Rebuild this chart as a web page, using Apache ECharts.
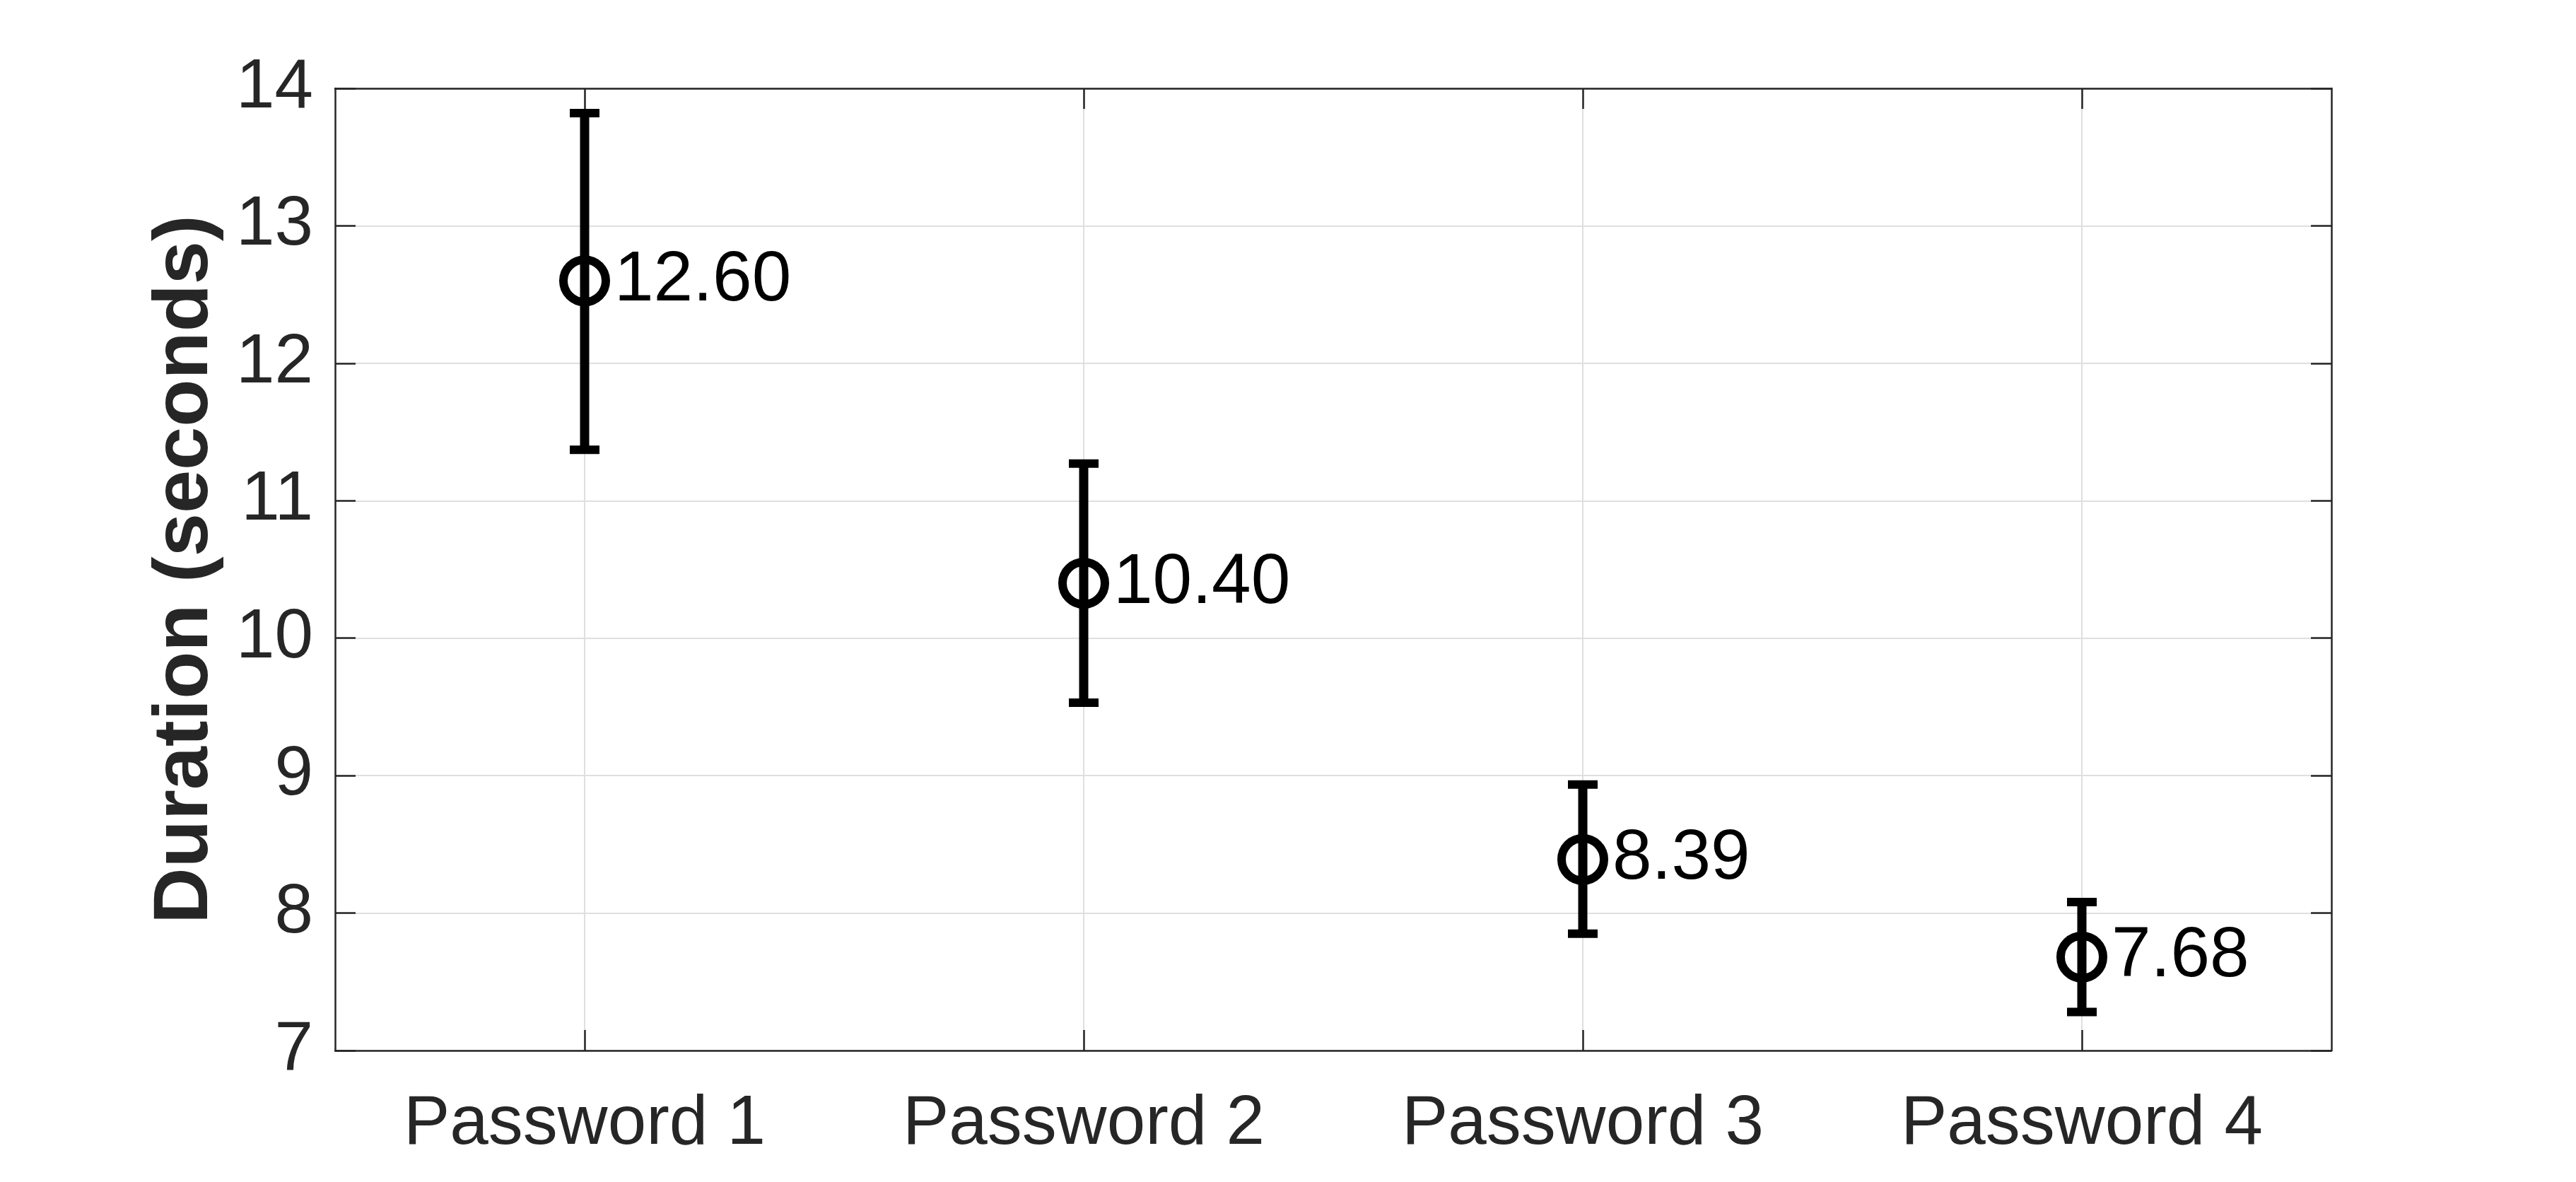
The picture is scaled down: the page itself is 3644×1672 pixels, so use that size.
<!DOCTYPE html>
<html>
<head>
<meta charset="utf-8">
<script src="https://cdn.jsdelivr.net/npm/echarts@6/dist/echarts.min.js"></script>
<style>
html,body{margin:0;padding:0;background:#fff;}
#chart{width:3644px;height:1672px;}
</style>
</head>
<body>
<div id="chart"></div>
<script>
const categories = ['Password 1', 'Password 2', 'Password 3', 'Password 4'];
const means = [12.60, 10.40, 8.39, 7.68];
const lowers = [11.37, 9.53, 7.85, 7.28];
const uppers = [13.82, 11.27, 8.935, 8.08];
const yMin = 7, yMax = 14, yStep = 1;
const yTitle = 'Duration (seconds)';

const FONT = "'Liberation Sans', Arial, Helvetica, sans-serif";
const AX = '#262626';
const GRID = '#dfdfdf';

const chart = echarts.init(document.getElementById('chart'), null, {renderer: 'canvas'});

const errData = categories.map((c, i) => [i, lowers[i], uppers[i]]);

const option = {
  animation: false,
  backgroundColor: '#ffffff',
  grid: {left: 474, right: 346, top: 125, bottom: 186, containLabel: false},
  xAxis: [
    {
      type: 'category', data: categories, position: 'bottom', boundaryGap: true,
      axisLine: {show: true, onZero: false, lineStyle: {color: AX, width: 2.5}},
      axisTick: {show: true, inside: true, alignWithLabel: true, length: 29, interval: 0, lineStyle: {color: AX, width: 2.5}},
      axisLabel: {show: true, interval: 0, margin: 56, fontSize: 98, fontFamily: FONT, color: AX},
      splitLine: {show: true, alignWithLabel: true, interval: 0, lineStyle: {color: GRID, width: 2}}
    },
    {
      type: 'category', data: categories, position: 'top', boundaryGap: true,
      axisLine: {show: true, onZero: false, lineStyle: {color: AX, width: 2.5}},
      axisTick: {show: true, inside: true, alignWithLabel: true, length: 29, interval: 0, lineStyle: {color: AX, width: 2.5}},
      axisLabel: {show: false},
      splitLine: {show: false}
    }
  ],
  yAxis: [
    {
      type: 'value', min: yMin, max: yMax, interval: yStep, position: 'left',
      name: yTitle, nameLocation: 'middle', nameGap: 156,
      nameTextStyle: {fontSize: 110, fontWeight: 'bold', fontFamily: FONT, color: AX},
      axisLine: {show: true, onZero: false, lineStyle: {color: AX, width: 2.5}},
      axisTick: {show: true, inside: true, length: 29, lineStyle: {color: AX, width: 2.5}},
      axisLabel: {show: true, margin: 31, fontSize: 98, fontFamily: FONT, color: AX, padding: [20, 0, 0, 0]},
      splitLine: {show: true, lineStyle: {color: GRID, width: 2}}
    },
    {
      type: 'value', min: yMin, max: yMax, interval: yStep, position: 'right',
      axisLine: {show: true, onZero: false, lineStyle: {color: AX, width: 2.5}},
      axisTick: {show: true, inside: true, length: 29, lineStyle: {color: AX, width: 2.5}},
      axisLabel: {show: false},
      splitLine: {show: false}
    }
  ],
  series: [
    {
      type: 'custom',
      xAxisIndex: 0, yAxisIndex: 0,
      data: errData,
      encode: {x: 0, y: [1, 2]},
      z: 3,
      renderItem: function (params, api) {
        const xi = api.value(0);
        const lo = api.coord([xi, api.value(1)]);
        const hi = api.coord([xi, api.value(2)]);
        const capHalf = 21;
        return {
          type: 'group',
          children: [
            {type: 'line', shape: {x1: lo[0], y1: lo[1], x2: hi[0], y2: hi[1]}, style: {stroke: '#000', lineWidth: 13}},
            {type: 'line', shape: {x1: lo[0] - capHalf, y1: lo[1], x2: lo[0] + capHalf, y2: lo[1]}, style: {stroke: '#000', lineWidth: 12}},
            {type: 'line', shape: {x1: hi[0] - capHalf, y1: hi[1], x2: hi[0] + capHalf, y2: hi[1]}, style: {stroke: '#000', lineWidth: 12}}
          ]
        };
      }
    },
    {
      type: 'scatter',
      xAxisIndex: 0, yAxisIndex: 0,
      data: means,
      z: 4,
      symbol: 'circle',
      symbolSize: 60,
      itemStyle: {color: 'rgba(0,0,0,0)', borderColor: '#000', borderWidth: 12, opacity: 1},
      label: {
        show: true, position: 'right', distance: 6,
        formatter: p => p.value.toFixed(2),
        fontSize: 100, fontFamily: FONT, color: '#000'
      },
      emphasis: {disabled: true}
    }
  ]
};
chart.setOption(option);
</script>
</body>
</html>
